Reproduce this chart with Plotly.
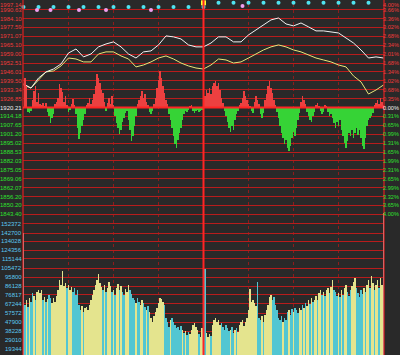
import plotly.graph_objects as go

# ---------------- data ----------------
PREV_CLOSE = 1920.21
line_minutes = list(range(0, 241, 5))
index_line = [1937.1, 1934.2, 1941.4, 1945.8, 1947.9, 1951.5, 1959.4, 1962.3, 1956.6, 1958.7,
              1963.8, 1965.9, 1967.4, 1963.8, 1958.7, 1955.8, 1960.2, 1960.9, 1965.2, 1971.7,
              1971.0, 1969.5, 1965.2, 1963.8, 1963.8, 1966.6, 1971.0, 1971.0, 1967.4, 1967.4,
              1972.4, 1976.0, 1979.6, 1983.2, 1984.6, 1980.3, 1978.9, 1981.0, 1978.2, 1975.3,
              1975.3, 1974.6, 1973.8, 1970.2, 1966.6, 1961.6, 1955.8, 1956.6, 1955.8]
avg_line = [1936.4, 1934.2, 1940.0, 1945.8, 1946.5, 1950.1, 1955.8, 1955.1, 1953.0, 1953.0,
            1958.7, 1960.2, 1960.2, 1957.3, 1955.1, 1949.4, 1950.8, 1953.0, 1955.8, 1957.3,
            1955.1, 1952.2, 1950.1, 1948.6, 1947.9, 1950.8, 1955.1, 1954.4, 1952.2, 1953.0,
            1955.8, 1958.7, 1961.6, 1963.8, 1965.2, 1963.8, 1961.6, 1960.2, 1958.0, 1955.8,
            1954.4, 1953.0, 1950.8, 1949.4, 1942.9, 1938.6, 1929.9, 1932.8, 1936.4]

minutes = list(range(241))
strength = [0,
    30, 22, -4, -5, -3, 8, 17, 22, 6, 15,
    4, 3, 5, 2, 5, -4, -8, -15, -10, -6,
    4, 6, 10, 24, 20, 16, 6, 12, 3, -4,
    -2, 4, 9, 3, -6, -20, -31, -25, -18, -12,
    -6, 3, 5, 10, 4, 8, 14, 22, 34, 30,
    25, 18, 15, 6, -3, 5, 10, 4, 12, 3,
    -8, -15, -20, -26, -22, -14, -10, -5, -3, -12,
    -22, -33, -28, -18, -8, 4, 8, 12, 17, 10,
    14, 6, 3, -4, -6, -3, 4, 10, 20, 28,
    37, 30, 22, 15, 8, 4, -6, -12, -20, -28,
    -36, -40, -32, -25, -20, -12, -6, -3, -4, -2,
    2, 3, -3, -5, -3, -2, -4, -3, -2, 4,
    12, 18, 15, 20, 14, 22, 25, 27, 22, 25,
    18, 10, 5, -3, -8, -14, -20, -24, -18, -22,
    -12, -6, -3, 3, 5, 10, 17, 12, 8, 4,
    2, -3, -5, 6, 12, 8, 4, -6, -10, -5,
    8, 14, 22, 27, 20, 15, 8, 3, -4, -10,
    -18, -25, -30, -36, -32, -40, -43, -38, -30, -24,
    -28, -20, -12, -5, 6, 12, 8, 4, -4, -8,
    -12, -14, -8, -4, 3, 5, 2, -3, -6, -4,
    3, 2, -4, -8, -6, -10, -15, -20, -14, -18,
    -12, -22, -28, -35, -40, -33, -25, -28, -22, -30,
    -25, -20, -27, -22, -30, -38, -41, -30, -18, -12,
    -10, -8, -5, 3, 5, 8, 4, 10, 6, 3]

volume_k = [142.7,
    66.1, 71.5, 64.0, 73.6, 69.3, 78.9, 75.7, 71.5, 80.0, 82.1,
    78.9, 82.1, 71.5, 74.7, 69.3, 72.5, 76.8, 73.6, 68.3, 73.6,
    69.3, 75.7, 82.1, 92.7, 87.4, 102.3, 86.3, 89.5, 84.2, 87.4,
    82.1, 85.3, 80.0, 84.2, 76.8, 82.1, 66.1, 60.8, 65.1, 58.7,
    63.0, 64.0, 60.8, 66.1, 71.5, 76.8, 82.1, 87.4, 92.7, 99.1,
    89.5, 85.3, 82.1, 87.4, 80.0, 84.2, 90.6, 86.3, 80.0, 82.1,
    76.8, 84.2, 88.5, 82.1, 86.3, 80.0, 76.8, 83.2, 80.0, 87.4,
    82.1, 77.8, 73.6, 71.5, 68.3, 73.6, 69.3, 66.1, 71.5, 68.3,
    64.0, 60.8, 65.1, 58.7, 52.3, 48.1, 54.4, 58.7, 63.0, 68.3,
    73.6, 72.5, 69.3, 66.1, 52.3, 48.1, 42.7, 50.2, 52.3, 48.1,
    44.9, 41.7, 42.7, 39.5, 43.8, 39.5, 36.4, 38.5, 34.2, 37.4,
    35.3, 39.5, 44.9, 47.0, 42.7, 39.5, 35.3, 32.1, 41.7, 34.2,
    104.4, 36.4, 32.1, 35.3, 33.2, 44.9, 50.2, 52.3, 48.1, 50.2,
    44.9, 47.0, 42.7, 39.5, 44.9, 41.7, 38.5, 39.5, 42.7, 36.4,
    39.5, 41.7, 37.4, 44.9, 48.1, 50.2, 43.8, 48.1, 52.3, 60.8,
    83.2, 69.3, 71.5, 68.3, 65.1, 90.6, 52.3, 50.2, 54.4, 48.1,
    55.5, 60.8, 66.1, 74.7, 76.8, 71.5, 74.7, 66.1, 60.8, 52.3,
    50.2, 54.4, 48.1, 52.3, 50.2, 58.7, 60.8, 55.5, 61.9, 58.7,
    63.0, 60.8, 57.6, 63.0, 60.8, 66.1, 63.0, 68.3, 65.1, 71.5,
    67.2, 73.6, 69.3, 71.5, 75.7, 71.5, 78.9, 82.1, 76.8, 80.0,
    75.7, 82.1, 84.2, 78.9, 85.3, 92.7, 82.1, 80.0, 75.7, 78.9,
    74.7, 82.1, 76.8, 84.2, 87.4, 80.0, 75.7, 82.1, 86.3, 90.6,
    94.9, 84.2, 78.9, 74.7, 82.1, 77.8, 84.2, 80.0, 87.4, 92.7,
    84.2, 97.0, 89.5, 82.1, 87.4, 92.7, 84.2, 94.9, 87.4, 164.0]

vol_kind = ("G" + "CYCYCCYCYYYYCYCYCCYY" + "YYYYYYYYCYYYCCCCCCYC" + "YYYYYYYYYYYYCYCYYYCY"
            + "CYYCYCCYYYCCCCYCCYYC" + "CYCYYYYYYYYYYCCCCYCC" + "CCCCCYCYCCYYYYYYCYYY"
            + "CYYYCYYYYYYCCCCCCYCC" + "YCYYYYYYYYYYYYYCCCYC" + "YYYYYCCCCCCCYCCCYCCY"
            + "CCCYYCYCYYCYCYYCYYCY" + "CYYCYYCCCYCYCYYCCCYY" + "YCCCCCYCYYCYYCYYCYYG")

price_labels = ["1997.14", "1990.63", "1984.10", "1977.59", "1971.07", "1965.10", "1959.00",
                "1952.51", "1946.01", "1939.50", "1933.34", "1926.85", "1920.21",
                "1914.18", "1907.65", "1901.20", "1895.02", "1888.53", "1882.03", "1875.05",
                "1869.06", "1862.07", "1856.20", "1850.20", "1843.40"]
pct_labels = ["4.00%", "3.66%", "3.36%", "3.02%", "2.68%", "2.34%", "2.01%", "1.68%", "1.34%",
              "1.02%", "0.68%", "0.35%", "0.00%", "0.31%", "0.65%", "0.99%", "1.31%", "1.65%",
              "1.99%", "2.31%", "2.65%", "2.99%", "3.32%", "3.65%", "4.00%"]
vol_ticks = [152372, 142700, 134028, 124356, 115144, 105472, 95800, 86128, 76817,
             67244, 57572, 47900, 38228, 29010, 19344]

cyan_low_marks = [0, 10, 20, 30, 40, 50, 60, 70, 80, 90, 100, 110, 120]
cyan_high_marks = [130, 140, 150, 160, 170, 180, 190, 200, 210, 220, 230]
pink_marks = [9, 18, 37, 55, 85]
pink_high_marks = [146]
yellow_marks = [120]

# ---------------- geometry / style ----------------
W, H = 400, 355
X0_PX, X1_PX = 23, 384
MID_PX, SPAN4_PX = 107.5, 106.8      # price panel: prev close row, 4% distance
VOL_ZERO_PX, VOL_PER_PX = 367.2, 1063.4
BG = "#292929"
GRID = "#b81c1c"
RED_T, GREEN_T, CYAN_T = "#f03a3a", "#2ee02e", "#5cc8f0"
FONT = "Liberation Sans, Arial"
FS = 6
FS_R = 5.6

pp = PREV_CLOSE * 0.04 / SPAN4_PX
price_rng = [PREV_CLOSE - (H - MID_PX) * pp, PREV_CLOSE + MID_PX * pp]
str_rng = [-(H - MID_PX), MID_PX]
vol_rng = [(VOL_ZERO_PX - H) * VOL_PER_PX, VOL_ZERO_PX * VOL_PER_PX]
price_ticks = [PREV_CLOSE * (1 + k / 300) for k in range(12, -13, -1)]

fig = go.Figure()

# volume bars
vcol = {"Y": "#e4e48e", "C": "#52c6d2", "G": "#c8c8c8"}
fig.add_trace(go.Bar(x=minutes, y=[v * 1000 for v in volume_k], yaxis="y3", width=0.6,
                     marker=dict(color=[vcol[c] for c in vol_kind], line_width=0),
                     showlegend=False, hoverinfo="skip"))
# strength bars
fig.add_trace(go.Bar(x=minutes, y=strength, yaxis="y2", width=0.5,
                     marker=dict(color=["#ec4040" if s > 0 else "#36d336" for s in strength],
                                 line_width=0),
                     showlegend=False, hoverinfo="skip"))
# price lines
fig.add_trace(go.Scatter(x=line_minutes, y=avg_line, mode="lines",
                         line=dict(color="#e6e67a", width=1), showlegend=False))
fig.add_trace(go.Scatter(x=line_minutes, y=index_line, mode="lines",
                         line=dict(color="#f2f2f2", width=1), showlegend=False))
# event markers
def marks(xs, level, color, sym="circle", size=4):
    fig.add_trace(go.Scatter(x=xs, y=[level] * len(xs), yaxis="y4", mode="markers",
                             marker=dict(color=color, size=size, symbol=sym),
                             showlegend=False, cliponaxis=False))
marks(cyan_low_marks, 0.980, "#4fe3f0")
marks(cyan_high_marks, 0.992, "#4fe3f0")
marks(pink_marks, 0.972, "#f09ef0")
marks(pink_high_marks, 0.983, "#f09ef0")
marks(yellow_marks, 0.992, "#ffff30", "square", 5)

xdom = [X0_PX / W, X1_PX / W]
fig.update_layout(
    width=W, height=H, margin=dict(l=0, r=0, t=0, b=0),
    paper_bgcolor=BG, plot_bgcolor=BG, barmode="overlay", bargap=0,
    xaxis=dict(domain=xdom, range=[-1 / 3, 240 + 1 / 3], showgrid=False, zeroline=False,
               showticklabels=False, ticks=""),
    yaxis=dict(range=price_rng, tickvals=price_ticks, showticklabels=False, ticks="",
               showgrid=True, gridcolor=GRID, gridwidth=1, zeroline=False),
    yaxis2=dict(range=str_rng, overlaying="y", visible=False),
    yaxis3=dict(range=vol_rng, overlaying="y", tickvals=vol_ticks, showticklabels=False,
                ticks="", showgrid=True, gridcolor=GRID, gridwidth=1, zeroline=False),
    yaxis4=dict(range=[0, 1], overlaying="y", visible=False),
)

shapes = []
for m in [30, 60, 90, 150, 180, 210]:
    shapes.append(dict(type="line", xref="x", yref="paper", x0=m, x1=m, y0=0, y1=1,
                       line=dict(color="#8c1c1c", width=1, dash="dot"), layer="below"))
shapes.append(dict(type="line", xref="paper", yref="paper", x0=xdom[0], x1=xdom[0], y0=0, y1=1,
                   line=dict(color="#e02020", width=1.2), layer="above"))
shapes.append(dict(type="line", xref="paper", yref="paper", x0=xdom[1], x1=xdom[1], y0=0, y1=1,
                   line=dict(color="#e02020", width=1.2), layer="above"))
shapes.append(dict(type="line", xref="x", yref="paper", x0=120, x1=120, y0=0, y1=1,
                   line=dict(color="#ff2424", width=2), layer="above"))
shapes.append(dict(type="line", xref="paper", yref="y", x0=xdom[0], x1=xdom[1],
                   y0=PREV_CLOSE, y1=PREV_CLOSE, line=dict(color="#ff2424", width=2),
                   layer="above"))
fig.update_layout(shapes=shapes)

ann = []
for k, (val, pl, pc) in enumerate(zip(price_ticks, price_labels, pct_labels)):
    col = RED_T if k < 12 else ("#f0f0f0" if k == 12 else GREEN_T)
    ya = "top" if k == 0 else "middle"
    ann.append(dict(xref="paper", yref="y", x=22.5 / W, y=val, text=pl, showarrow=False,
                    xanchor="right", yanchor=ya, borderpad=0,
                    font=dict(size=FS, color=col, family=FONT)))
    ann.append(dict(xref="paper", yref="y", x=399.5 / W, y=val, text=pc, showarrow=False,
                    xanchor="right", yanchor=ya, borderpad=0,
                    font=dict(size=FS_R, color=col, family=FONT)))
for v in vol_ticks:
    ann.append(dict(xref="paper", yref="y3", x=22.5 / W, y=v, text=str(v), showarrow=False,
                    xanchor="right", yanchor="middle", borderpad=0,
                    font=dict(size=FS, color=CYAN_T, family=FONT)))
fig.update_layout(annotations=ann)

fig.write_html("out.html")
